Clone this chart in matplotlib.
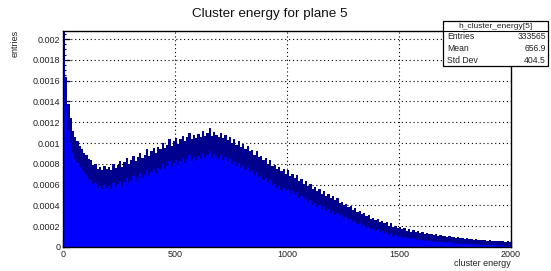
import numpy as np
import matplotlib
matplotlib.use('Agg')
import matplotlib.pyplot as plt
from matplotlib.patches import Rectangle
from matplotlib.ticker import MultipleLocator

plt.rcParams['font.family'] = ['Liberation Sans', 'DejaVu Sans']

# === Histogram content (normalised entries per unit bin, 10-wide bins 0..2000) ===
bin_edges = np.arange(0, 2001, 10)
entries = np.array([
    0.00195, 0.00150, 0.00125, 0.00112, 0.00101, 0.00095, 0.00091, 0.00087, 0.00084, 0.00081,
    0.00079, 0.00075, 0.00074, 0.00070, 0.00071, 0.00066, 0.00068, 0.00065, 0.00069, 0.00066,
    0.00068, 0.00065, 0.00071, 0.00067, 0.00070, 0.00073, 0.00068, 0.00072, 0.00076, 0.00071,
    0.00074, 0.00078, 0.00073, 0.00077, 0.00081, 0.00076, 0.00079, 0.00084, 0.00078, 0.00082,
    0.00085, 0.00081, 0.00086, 0.00084, 0.00090, 0.00085, 0.00088, 0.00093, 0.00087, 0.00091,
    0.00094, 0.00089, 0.00093, 0.00096, 0.00091, 0.00095, 0.00099, 0.00093, 0.00097, 0.00094,
    0.00098, 0.00095, 0.00101, 0.00096, 0.00099, 0.00103, 0.00096, 0.00100, 0.00097, 0.00095,
    0.00099, 0.00094, 0.00097, 0.00092, 0.00095, 0.00090, 0.00093, 0.00088, 0.00091, 0.00086,
    0.00089, 0.00084, 0.00087, 0.00082, 0.00083, 0.00079, 0.00082, 0.00077, 0.00078, 0.00074,
    0.00076, 0.00071, 0.00074, 0.00069, 0.00070, 0.00066, 0.00068, 0.00064, 0.00066, 0.00062,
    0.00065, 0.00060, 0.00062, 0.00058, 0.00061, 0.00055, 0.00057, 0.00053, 0.00055, 0.00051,
    0.00053, 0.00048, 0.00050, 0.00046, 0.00048, 0.00044, 0.00046, 0.00042, 0.00044, 0.00040,
    0.00042, 0.00038, 0.00040, 0.00036, 0.00037, 0.00034, 0.00035, 0.00032, 0.00033, 0.00030,
    0.00031, 0.00028, 0.00029, 0.00026, 0.00027, 0.00024, 0.00025, 0.00022, 0.00023, 0.00021,
    0.00022, 0.00019, 0.00020, 0.00018, 0.00019, 0.00016, 0.00018, 0.00015, 0.00016, 0.00014,
    0.000150, 0.000130, 0.000140, 0.000120, 0.000130, 0.000112, 0.000122, 0.000105, 0.000114, 0.000100,
    0.000108, 0.000094, 0.000100, 0.000088, 0.000095, 0.000082, 0.000088, 0.000078, 0.000083, 0.000074,
    0.000078, 0.000068, 0.000073, 0.000064, 0.000068, 0.000060, 0.000064, 0.000056, 0.000060, 0.000053,
    0.000056, 0.000049, 0.000053, 0.000047, 0.000050, 0.000044, 0.000047, 0.000042, 0.000045, 0.000040,
    0.000042, 0.000037, 0.000040, 0.000035, 0.000038, 0.000033, 0.000036, 0.000031, 0.000034, 0.000030,
])

n_entries = 333565
mean_val = 656.9
std_val = 404.5
hist_name = 'h_cluster_energy[5]'

# statistical spread of the unit-width bins (drawn as the dark error band)
band = 2 * np.sqrt(entries / n_entries)

# === Figure ===
fig = plt.figure(figsize=(5.51, 2.71), dpi=100)
ax = fig.add_axes([63 / 551, 24 / 271, 448 / 551, 216 / 271])

ax.stairs(entries, bin_edges, fill=True, color='#0000ff', zorder=2)
ax.stairs(entries + band, bin_edges, baseline=entries - band, fill=True,
          color='#00008f', zorder=3)

ax.set_xlim(0, 2000)
ax.set_ylim(0, 0.002077)

ax.xaxis.set_major_locator(MultipleLocator(500))
ax.xaxis.set_minor_locator(MultipleLocator(100))
ax.yaxis.set_major_locator(MultipleLocator(0.0002))
ax.yaxis.set_minor_locator(MultipleLocator(0.00005))
ax.yaxis.set_major_formatter(lambda v, p: '0' if v == 0 else f'{v:.4f}'.rstrip('0'))
ax.xaxis.set_major_formatter(lambda v, p: f'{v:.0f}')

ax.tick_params(which='both', direction='in', labelsize=6.5, colors='black',
               labelcolor='#222222', top=False, right=False, pad=2)
ax.tick_params(which='major', length=5, width=0.9)
ax.tick_params(which='minor', length=2.5, width=0.8)

ax.grid(True, which='major', color='black', linestyle=(0, (1, 2.5)), linewidth=0.8, zorder=1)
ax.set_axisbelow(True)
for sp in ax.spines.values():
    sp.set_linewidth(1.0)
    sp.set_zorder(5)

fig.text(511 / 551, 1 - 263 / 271, 'cluster energy', ha='right', va='center',
         fontsize=6.5, color='#222222')
fig.text(15 / 551, 1 - 30 / 271, 'entries', ha='center', va='top', rotation=90,
         fontsize=6.5, color='#222222')

fig.text(270 / 551, 1 - 14 / 271, 'Cluster energy for plane 5', ha='center', va='center',
         fontsize=9.7, color='#111111')

# === Stats box ===
bx0, bx1 = 443 / 551, 548 / 551
by_top, by_sep, by_bot = 1 - 21 / 271, 1 - 31 / 271, 1 - 66 / 271
fig.patches.append(Rectangle((bx0, by_bot), bx1 - bx0, by_top - by_bot, transform=fig.transFigure,
                             facecolor='white', edgecolor='black', linewidth=0.9, zorder=10))
fig.lines.append(plt.Line2D([bx0, bx1], [by_sep, by_sep], transform=fig.transFigure,
                            color='black', linewidth=0.8, zorder=11))
fig.text((bx0 + bx1) / 2, (by_top + by_sep) / 2, hist_name, ha='center', va='center',
         fontsize=6, zorder=12, color='#222222')
rows = [('Entries', f'{n_entries}'), ('Mean', f'{mean_val:.1f}'), ('Std Dev', f'{std_val:.1f}')]
row_h = (by_sep - by_bot) / 3
for i, (lab, val) in enumerate(rows):
    yc = by_sep - row_h * (i + 0.5)
    fig.text(bx0 + 4 / 551, yc, lab, ha='left', va='center', fontsize=6.2, zorder=12, color='#222222')
    fig.text(bx1 - 2 / 551, yc, val, ha='right', va='center', fontsize=6.2, zorder=12, color='#222222')

fig.savefig('out.png', dpi=100)
